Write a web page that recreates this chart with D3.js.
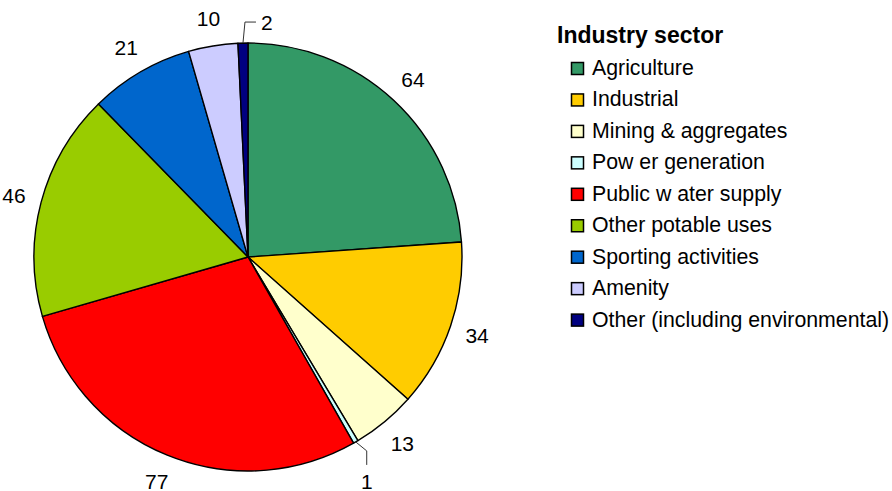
<!DOCTYPE html>
<html>
<head>
<meta charset="utf-8">
<script src="https://cdn.jsdelivr.net/npm/d3@7"></script>
<style>
  body { margin: 0; background: #fff; }
  svg { display: block; font-family: "Liberation Sans", Arial, sans-serif; }
</style>
</head>
<body>
<div id="chart"></div>
<script>
const sectors = ["Agriculture", "Industrial", "Mining & aggregates", "Pow er generation",
    "Public w ater supply", "Other potable uses", "Sporting activities", "Amenity",
    "Other (including environmental)"];
const counts = [64, 34, 13, 1, 77, 46, 21, 10, 2];
const colors = ["#339966", "#FFCC00", "#FFFFCC", "#CCFFFF", "#FF0000",
    "#99CC00", "#0066CC", "#CCCCFF", "#000080"];
const legendTitle = "Industry sector";

const W = 892, H = 491;
const cx = 248, cy = 257, R = 214;

const data = sectors.map((s, i) => ({ sector: s, value: counts[i], color: colors[i] }));

const svg = d3.select("#chart").append("svg")
    .attr("width", W)
    .attr("height", H);

const g = svg.append("g")
    .attr("transform", `translate(${cx},${cy})`);

const pie = d3.pie()
    .sort(null)
    .value(d => d.value);

const arc = d3.arc()
    .innerRadius(0)
    .outerRadius(R);

const arcs = pie(data);

g.selectAll("path.slice")
    .data(arcs)
    .enter()
    .append("path")
    .attr("class", "slice")
    .attr("d", arc)
    .attr("fill", d => d.data.color)
    .attr("stroke", "#000")
    .attr("stroke-width", 1.4)
    .attr("stroke-linejoin", "round");

// point at radius r along the middle angle of a slice
function polar(d, r) {
    const a = (d.startAngle + d.endAngle) / 2;
    return [r * Math.sin(a), -r * Math.cos(a)];
}

const labelR = 242;
const fontSize = "21px";

arcs.forEach(d => {
    if (d.data.value > 2) {
        const [x, y] = polar(d, labelR);
        g.append("text")
            .attr("x", x)
            .attr("y", y)
            .attr("text-anchor", "middle")
            .attr("dominant-baseline", "central")
            .style("font-size", fontSize)
            .text(d.data.value);
        return;
    }
    // tiny slices get a leader line
    const p0 = polar(d, R);
    const a = (d.startAngle + d.endAngle) / 2;
    if (Math.cos(a) > 0.9) {
        const p1 = [p0[0] + 2, p0[1] - 21];
        const p2 = [p1[0] + 11, p1[1]];
        g.append("polyline")
            .attr("points", [p0, p1, p2].map(p => p.join(",")).join(" "))
            .attr("fill", "none")
            .attr("stroke", "#333")
            .attr("stroke-width", 1);
        g.append("text")
            .attr("x", p2[0] + 5)
            .attr("y", p2[1])
            .attr("dominant-baseline", "central")
            .style("font-size", fontSize)
            .text(d.data.value);
    } else {
        const p1 = [p0[0] + 11, p0[1] + 9];
        const p2 = [p1[0], p1[1] + 14];
        g.append("polyline")
            .attr("points", [p0, p1, p2].map(p => p.join(",")).join(" "))
            .attr("fill", "none")
            .attr("stroke", "#333")
            .attr("stroke-width", 1);
        g.append("text")
            .attr("x", p2[0])
            .attr("y", p2[1] + 17)
            .attr("text-anchor", "middle")
            .attr("dominant-baseline", "central")
            .style("font-size", fontSize)
            .text(d.data.value);
    }
});

// legend
const legend = svg.append("g")
    .attr("transform", "translate(557,0)");

legend.append("text")
    .attr("x", 0)
    .attr("y", 43)
    .style("font-size", "23px")
    .style("font-weight", "bold")
    .text(legendTitle);

const rows = legend.selectAll("g.row")
    .data(data)
    .enter()
    .append("g")
    .attr("class", "row")
    .attr("transform", (d, i) => `translate(0,${68.5 + i * 31.45})`);

rows.append("rect")
    .attr("x", 14.5)
    .attr("y", -6)
    .attr("width", 12)
    .attr("height", 12)
    .attr("fill", d => d.color)
    .attr("stroke", "#000")
    .attr("stroke-width", 1.5);

rows.append("text")
    .attr("x", 35)
    .attr("y", 6.5)
    .style("font-size", "21.3px")
    .text(d => d.sector);
</script>
</body>
</html>
